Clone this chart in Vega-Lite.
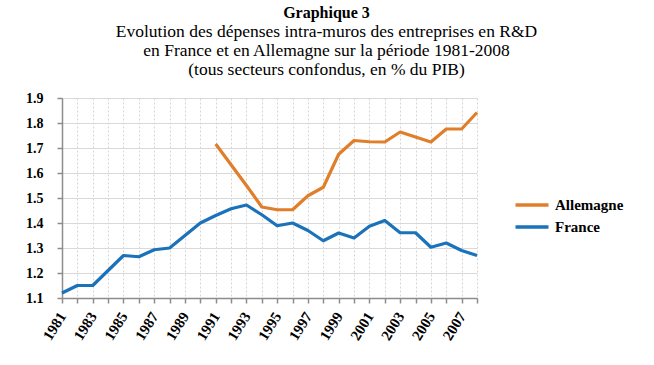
{
  "$schema": "https://vega.github.io/schema/vega-lite/v6.json",
  "width": 415,
  "height": 200,
  "autosize": {"type": "none"},
  "padding": {"left": 62, "top": 98, "right": 177, "bottom": 67},
  "background": "white",
  "title": {
    "text": "Graphique 3",
    "subtitle": ["Evolution des dépenses intra-muros des entreprises en R&D", "en France et en Allemagne sur la période 1981-2008", "(tous secteurs confondus, en % du PIB)"],
    "font": "Liberation Serif",
    "fontSize": 16,
    "fontWeight": "bold",
    "color": "#000000",
    "subtitleFont": "Liberation Serif",
    "subtitleFontSize": 17.5,
    "subtitleColor": "#000000",
    "subtitleLineHeight": 19,
    "subtitlePadding": 2,
    "anchor": "middle",
    "frame": "group",
    "dx": 57,
    "offset": 13
  },
  "data": {
    "values": [
      {"annee": 1981, "pays": "France", "valeur": 1.12},
      {"annee": 1982, "pays": "France", "valeur": 1.15},
      {"annee": 1983, "pays": "France", "valeur": 1.15},
      {"annee": 1984, "pays": "France", "valeur": 1.21},
      {"annee": 1985, "pays": "France", "valeur": 1.27},
      {"annee": 1986, "pays": "France", "valeur": 1.265},
      {"annee": 1987, "pays": "France", "valeur": 1.293},
      {"annee": 1988, "pays": "France", "valeur": 1.30},
      {"annee": 1989, "pays": "France", "valeur": 1.35},
      {"annee": 1990, "pays": "France", "valeur": 1.40},
      {"annee": 1991, "pays": "France", "valeur": 1.43},
      {"annee": 1992, "pays": "France", "valeur": 1.457},
      {"annee": 1993, "pays": "France", "valeur": 1.472},
      {"annee": 1994, "pays": "France", "valeur": 1.433},
      {"annee": 1995, "pays": "France", "valeur": 1.389},
      {"annee": 1996, "pays": "France", "valeur": 1.40},
      {"annee": 1997, "pays": "France", "valeur": 1.37},
      {"annee": 1998, "pays": "France", "valeur": 1.329},
      {"annee": 1999, "pays": "France", "valeur": 1.36},
      {"annee": 2000, "pays": "France", "valeur": 1.34},
      {"annee": 2001, "pays": "France", "valeur": 1.387},
      {"annee": 2002, "pays": "France", "valeur": 1.41},
      {"annee": 2003, "pays": "France", "valeur": 1.361},
      {"annee": 2004, "pays": "France", "valeur": 1.361},
      {"annee": 2005, "pays": "France", "valeur": 1.303},
      {"annee": 2006, "pays": "France", "valeur": 1.32},
      {"annee": 2007, "pays": "France", "valeur": 1.29},
      {"annee": 2008, "pays": "France", "valeur": 1.27},
      {"annee": 1991, "pays": "Allemagne", "valeur": 1.716},
      {"annee": 1992, "pays": "Allemagne", "valeur": 1.633},
      {"annee": 1993, "pays": "Allemagne", "valeur": 1.55},
      {"annee": 1994, "pays": "Allemagne", "valeur": 1.464},
      {"annee": 1995, "pays": "Allemagne", "valeur": 1.453},
      {"annee": 1996, "pays": "Allemagne", "valeur": 1.453},
      {"annee": 1997, "pays": "Allemagne", "valeur": 1.509},
      {"annee": 1998, "pays": "Allemagne", "valeur": 1.543},
      {"annee": 1999, "pays": "Allemagne", "valeur": 1.675},
      {"annee": 2000, "pays": "Allemagne", "valeur": 1.73},
      {"annee": 2001, "pays": "Allemagne", "valeur": 1.725},
      {"annee": 2002, "pays": "Allemagne", "valeur": 1.724},
      {"annee": 2003, "pays": "Allemagne", "valeur": 1.764},
      {"annee": 2004, "pays": "Allemagne", "valeur": 1.744},
      {"annee": 2005, "pays": "Allemagne", "valeur": 1.724},
      {"annee": 2006, "pays": "Allemagne", "valeur": 1.776},
      {"annee": 2007, "pays": "Allemagne", "valeur": 1.776},
      {"annee": 2008, "pays": "Allemagne", "valeur": 1.842}
    ]
  },
  "mark": {"type": "line", "strokeWidth": 3.2, "strokeJoin": "round"},
  "encoding": {
    "x": {
      "field": "annee",
      "type": "quantitative",
      "scale": {"domain": [1981, 2008], "nice": false, "zero": false},
      "axis": {
        "title": null,
        "values": [1981,1982,1983,1984,1985,1986,1987,1988,1989,1990,1991,1992,1993,1994,1995,1996,1997,1998,1999,2000,2001,2002,2003,2004,2005,2006,2007,2008],
        "format": "d",
        "labelExpr": "datum.value % 2 == 1 ? datum.label : ''",
        "labelAngle": -58,
        "labelAlign": "right",
        "labelBaseline": "middle",
        "labelFont": "Liberation Serif",
        "labelFontSize": 15,
        "labelFontWeight": "bold",
        "labelColor": "#000000",
        "labelPadding": 10,
        "labelOverlap": false,
        "labelFlush": false,
        "domainColor": "#8c8c8c",
        "domainWidth": 1.5,
        "tickColor": "#8c8c8c",
        "tickWidth": 1.5,
        "tickSize": 5,
        "grid": true,
        "gridColor": "#d4d4d4",
        "gridDash": [2, 2],
        "gridWidth": 1
      }
    },
    "y": {
      "field": "valeur",
      "type": "quantitative",
      "scale": {"domain": [1.1, 1.9], "nice": false, "zero": false},
      "axis": {
        "title": null,
        "values": [1.1, 1.2, 1.3, 1.4, 1.5, 1.6, 1.7, 1.8, 1.9],
        "format": ".1f",
        "labelFont": "Liberation Serif",
        "labelFontSize": 14,
        "labelFontWeight": "bold",
        "labelColor": "#000000",
        "labelPadding": 14,
        "domainColor": "#8c8c8c",
        "domainWidth": 1.5,
        "tickColor": "#8c8c8c",
        "tickWidth": 1.5,
        "tickSize": 5,
        "grid": true,
        "gridColor": "#d9d9d9",
        "gridWidth": 1
      }
    },
    "color": {
      "field": "pays",
      "type": "nominal",
      "scale": {"domain": ["Allemagne", "France"], "range": ["#E07E2A", "#1A72BA"]},
      "legend": {
        "title": null,
        "orient": "none",
        "legendX": 457,
        "legendY": 94,
        "symbolType": "M-1.5,0H1.5",
        "symbolStrokeWidth": 3.5,
        "symbolSize": 484,
        "symbolOffset": 0,
        "labelFont": "Liberation Serif",
        "labelFontSize": 15,
        "labelFontWeight": "bold",
        "labelColor": "#000000",
        "labelOffset": 10,
        "rowPadding": 1
      }
    }
  },
  "config": {"view": {"stroke": null}}
}
